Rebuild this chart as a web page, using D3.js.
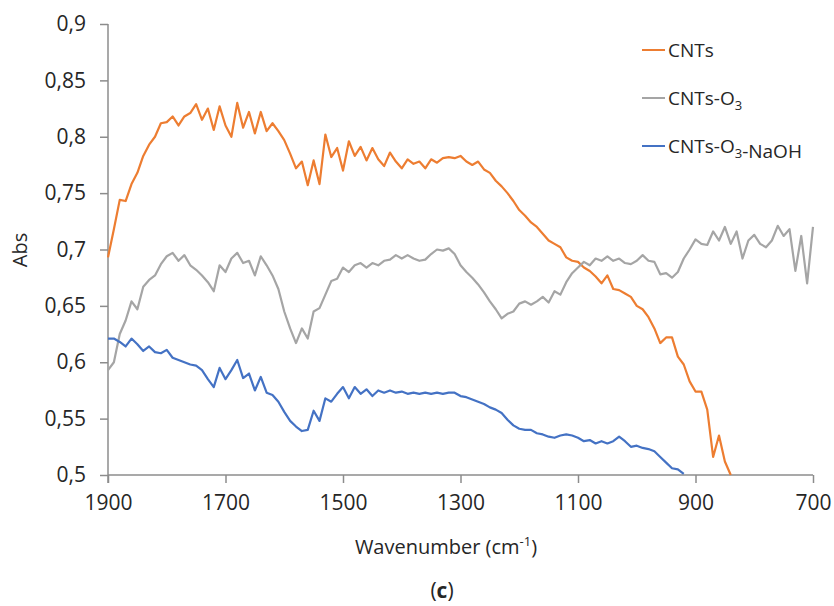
<!DOCTYPE html>
<html>
<head>
<meta charset="utf-8">
<script src="https://cdn.jsdelivr.net/npm/d3@7"></script>
<style>
  body { margin: 0; background: #fff; }
  svg text { font-family: "Open Sans", "DejaVu Sans", sans-serif; fill: #262626; }
</style>
</head>
<body>
<div id="chart"></div>
<script>
// wavenumber grid, cm-1 (1900 -> 700, every 10)
const wavenumbers = d3.range(1900, 699, -10);

// one value per wavenumber, null where the curve is gone
const cnts = [
  0.693, 0.718, 0.744, 0.743, 0.758, 0.768, 0.783, 0.793, 0.800, 0.812,
  0.813, 0.818, 0.810, 0.818, 0.821, 0.829, 0.815, 0.825, 0.806, 0.827,
  0.810, 0.800, 0.830, 0.808, 0.822, 0.803, 0.822, 0.805, 0.812, 0.805,
  0.797, 0.785, 0.772, 0.778, 0.757, 0.779, 0.758, 0.802, 0.782, 0.790,
  0.770, 0.796, 0.783, 0.791, 0.779, 0.790, 0.780, 0.774, 0.786, 0.778,
  0.772, 0.780, 0.776, 0.778, 0.772, 0.780, 0.777, 0.781, 0.782, 0.781,
  0.783, 0.778, 0.775, 0.778, 0.771, 0.768, 0.761, 0.756, 0.750, 0.743,
  0.735, 0.730, 0.724, 0.720, 0.714, 0.708, 0.705, 0.702, 0.693, 0.690,
  0.689, 0.684, 0.681, 0.676, 0.670, 0.677, 0.665, 0.664, 0.661, 0.658,
  0.650, 0.647, 0.640, 0.630, 0.617, 0.622, 0.622, 0.605, 0.598, 0.583,
  0.574, 0.574, 0.558, 0.516, 0.535, 0.512, 0.500, null, null, null,
  null, null, null, null, null, null, null, null, null, null,
  null
];

const cntsO3 = [
  0.593, 0.600, 0.625, 0.637, 0.654, 0.647, 0.667, 0.673, 0.677, 0.687,
  0.694, 0.697, 0.690, 0.695, 0.686, 0.682, 0.677, 0.671, 0.663, 0.686,
  0.680, 0.692, 0.697, 0.688, 0.690, 0.677, 0.694, 0.686, 0.677, 0.665,
  0.645, 0.630, 0.617, 0.630, 0.621, 0.645, 0.648, 0.660, 0.672, 0.674,
  0.684, 0.680, 0.686, 0.688, 0.684, 0.688, 0.686, 0.690, 0.691, 0.695,
  0.692, 0.695, 0.692, 0.690, 0.691, 0.696, 0.700, 0.699, 0.701, 0.696,
  0.686, 0.680, 0.675, 0.669, 0.662, 0.654, 0.647, 0.639, 0.643, 0.645,
  0.652, 0.654, 0.651, 0.654, 0.658, 0.653, 0.663, 0.660, 0.671, 0.679,
  0.684, 0.689, 0.686, 0.692, 0.690, 0.694, 0.690, 0.692, 0.688, 0.687,
  0.690, 0.695, 0.690, 0.689, 0.678, 0.679, 0.675, 0.680, 0.692, 0.700,
  0.709, 0.705, 0.704, 0.716, 0.708, 0.720, 0.705, 0.716, 0.692, 0.708,
  0.713, 0.705, 0.702, 0.708, 0.721, 0.712, 0.718, 0.681, 0.712, 0.670,
  0.720
];

const cntsO3NaOH = [
  0.621, 0.621, 0.618, 0.614, 0.621, 0.616, 0.610, 0.614, 0.609, 0.608,
  0.611, 0.604, 0.602, 0.600, 0.598, 0.597, 0.593, 0.585, 0.578, 0.595,
  0.585, 0.593, 0.602, 0.586, 0.590, 0.575, 0.587, 0.573, 0.571, 0.565,
  0.556, 0.548, 0.543, 0.539, 0.540, 0.557, 0.548, 0.568, 0.565, 0.572,
  0.578, 0.568, 0.578, 0.572, 0.576, 0.570, 0.575, 0.573, 0.575, 0.573,
  0.574, 0.572, 0.573, 0.572, 0.573, 0.572, 0.573, 0.572, 0.573, 0.573,
  0.570, 0.569, 0.567, 0.565, 0.563, 0.560, 0.558, 0.555, 0.549, 0.544,
  0.541, 0.540, 0.540, 0.537, 0.536, 0.534, 0.533, 0.535, 0.536, 0.535,
  0.533, 0.530, 0.531, 0.528, 0.530, 0.528, 0.530, 0.534, 0.530, 0.525,
  0.526, 0.524, 0.523, 0.521, 0.516, 0.511, 0.506, 0.505, 0.501, null,
  null, null, null, null, null, null, null, null, null, null,
  null, null, null, null, null, null, null, null, null, null,
  null
];

const seriesNames = ["CNTs", "CNTs-O3", "CNTs-O3-NaOH"];
const seriesColors = ["#ed7d31", "#a5a5a5", "#4472c4"];
const xTicks = [1900, 1700, 1500, 1300, 1100, 900, 700];
const yTicks = [0.5, 0.55, 0.6, 0.65, 0.7, 0.75, 0.8, 0.85, 0.9];

const width = 834, height = 606;
const margin = { left: 108, right: 21, top: 24, bottom: 131 };

const svg = d3.select("#chart")
  .append("svg")
  .attr("width", width)
  .attr("height", height);

const x = d3.scaleLinear()
  .domain([1900, 700])
  .range([margin.left, width - margin.right]);

const y = d3.scaleLinear()
  .domain([0.5, 0.9])
  .range([height - margin.bottom, margin.top]);

const axisColor = "#8c8c8c";

// y axis
const yAxis = svg.append("g")
  .attr("transform", `translate(${margin.left},0)`)
  .call(d3.axisLeft(y)
    .tickValues(yTicks)
    .tickSize(8)
    .tickPadding(14)
    .tickFormat(d => String(+d.toFixed(2)).replace(".", ",")));
yAxis.select(".domain").attr("stroke", axisColor).attr("stroke-width", 1.5)
  .attr("d", `M0,${y(0.9)}V${y(0.5) + 8}`);
yAxis.selectAll(".tick line").attr("stroke", axisColor).attr("stroke-width", 1.5);
yAxis.selectAll(".tick text").attr("font-size", 21).attr("fill", "#262626")
  .attr("font-family", "'Open Sans', sans-serif");

// x axis
const xAxis = svg.append("g")
  .attr("transform", `translate(0,${y(0.5)})`)
  .call(d3.axisBottom(x)
    .tickValues(xTicks)
    .tickSize(8)
    .tickPadding(12)
    .tickFormat(d3.format("d")));
xAxis.select(".domain").attr("stroke", axisColor).attr("stroke-width", 1.5)
  .attr("d", `M${x(1900)},0H${x(700)}`);
xAxis.selectAll(".tick line").attr("stroke", axisColor).attr("stroke-width", 1.5);
xAxis.selectAll(".tick text").attr("font-size", 21).attr("fill", "#262626")
  .attr("font-family", "'Open Sans', sans-serif");

// lines
const allSeries = [cnts, cntsO3, cntsO3NaOH];
const line = d3.line()
  .defined(d => d[1] != null)
  .x(d => x(d[0]))
  .y(d => y(d[1]));

svg.append("g")
  .selectAll("path")
  .data(allSeries)
  .enter()
  .append("path")
  .attr("fill", "none")
  .attr("stroke", (d, i) => seriesColors[i])
  .attr("stroke-width", 2.2)
  .attr("stroke-linejoin", "round")
  .attr("d", vals => line(wavenumbers.map((w, j) => [w, vals[j]])));

// legend
const legend = svg.append("g");
const legendRows = [50, 98, 146];
seriesNames.forEach((name, i) => {
  legend.append("line")
    .attr("x1", 642).attr("x2", 665)
    .attr("y1", legendRows[i]).attr("y2", legendRows[i])
    .attr("stroke", seriesColors[i])
    .attr("stroke-width", 2);
  const t = legend.append("text")
    .attr("x", 668)
    .attr("y", legendRows[i] + 7)
    .attr("font-size", 19);
  // O3 with a subscript 3
  const parts = name.split("O3");
  parts.forEach((p, k) => {
    t.append("tspan").text(p);
    if (k < parts.length - 1) {
      t.append("tspan").text("O");
      t.append("tspan").text("3").attr("font-size", 13).attr("dy", 5);
      t.append("tspan").text("").attr("dy", -5);
    }
  });
});

// axis titles
svg.append("text")
  .attr("transform", `translate(27,250) rotate(-90)`)
  .attr("text-anchor", "middle")
  .attr("font-size", 20)
  .text("Abs");

const xTitle = svg.append("text")
  .attr("x", 446)
  .attr("y", 554)
  .attr("text-anchor", "middle")
  .attr("font-size", 20);
xTitle.append("tspan").text("Wavenumber (cm");
xTitle.append("tspan").text("-1").attr("font-size", 13).attr("dy", -8);
xTitle.append("tspan").text(")").attr("dy", 8);

const caption = svg.append("text")
  .attr("x", 442)
  .attr("y", 598)
  .attr("text-anchor", "middle")
  .attr("font-size", 21)
  .attr("font-family", "'Liberation Serif', serif");
caption.append("tspan").text("(");
caption.append("tspan").text("c").attr("font-weight", "bold");
caption.append("tspan").text(")");
</script>
</body>
</html>
